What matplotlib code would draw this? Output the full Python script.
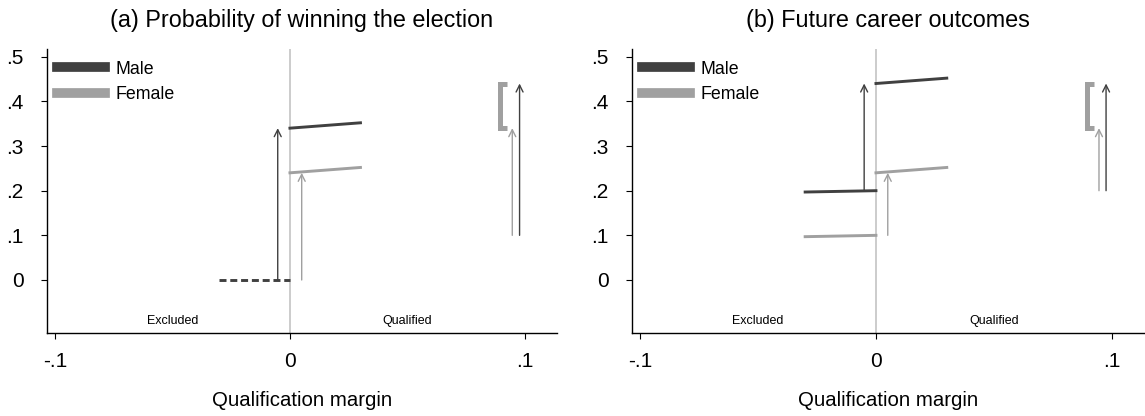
import matplotlib
matplotlib.use('Agg')
import matplotlib.pyplot as plt
from matplotlib.lines import Line2D

plt.rcParams['font.family'] = ['Liberation Sans', 'DejaVu Sans']

#Colours
dark = '#404040'
light = '#a0a0a0'
cutoff = '#c4c4c4'

#x positions of the fitted segments
x_left = [-0.03, 0]
x_right = [0, 0.03]

#Panel (a): probability of winning
a_male_right = [0.34, 0.352]
a_female_right = [0.24, 0.252]
a_excluded = [0, 0]
a_jump_male = (0, 0.34)
a_jump_female = (0, 0.24)

#Panel (b): future career outcomes
b_male_left = [0.197, 0.2]
b_male_right = [0.44, 0.452]
b_female_left = [0.097, 0.1]
b_female_right = [0.24, 0.252]
b_jump_male = (0.2, 0.44)
b_jump_female = (0.1, 0.24)

#Side arrows (start, end) and the bracket
side_male = {'a': (0.1, 0.44), 'b': (0.2, 0.44)}
side_female = {'a': (0.1, 0.34), 'b': (0.2, 0.34)}
bracket = (0.34, 0.44)

titles = ['(a) Probability of winning the election', '(b) Future career outcomes']
yticks = [0, 0.1, 0.2, 0.3, 0.4, 0.5]
ytick_labels = ['0', '.1', '.2', '.3', '.4', '.5']
xticks = [-0.1, 0, 0.1]
xtick_labels = ['-.1', '0', '.1']

fig = plt.figure(figsize=(11.45, 4.16), dpi=100)
ax_a = fig.add_axes([46.7/1145, 1-333/416, 510/1145, (333-49.3)/416])
ax_b = fig.add_axes([631.7/1145, 1-333/416, 513.3/1145, (333-49.3)/416])


def arrow(ax, x, y0, y1, color):
    ax.annotate('', xy=(x, y1), xytext=(x, y0),
                arrowprops=dict(arrowstyle='->,head_length=0.5,head_width=0.25',
                                color=color, lw=1.0, shrinkA=0, shrinkB=0))


def setup(ax, title):
    ax.set_xlim(-0.1035, 0.1135 if ax is ax_a else 0.114)
    ax.set_ylim(-0.1187, 0.5166)
    ax.axvline(0, color=cutoff, lw=1.2, zorder=0)
    ax.spines['top'].set_visible(False)
    ax.spines['right'].set_visible(False)
    ax.spines['left'].set_linewidth(1.0)
    ax.spines['bottom'].set_linewidth(1.0)
    ax.set_yticks(yticks)
    ax.set_yticklabels(ytick_labels)
    ax.set_xticks(xticks)
    ax.set_xticklabels(xtick_labels)
    ax.tick_params(axis='y', length=4, pad=12.5, labelsize=15)
    ax.tick_params(axis='x', length=4, pad=10, labelsize=15)
    ax.set_xlabel('Qualification margin', fontsize=14.7, labelpad=14)
    ax.set_title(title, fontsize=16.8, pad=16)
    ax.text(-0.05, -0.092, 'Excluded', ha='center', va='center', fontsize=9)
    ax.text(0.05, -0.092, 'Qualified', ha='center', va='center', fontsize=9)
    handles = [Line2D([], [], color=dark, lw=7), Line2D([], [], color=light, lw=7)]
    ax.legend(handles, ['Male', 'Female'], loc='upper left', bbox_to_anchor=(0.02, 0.96),
              frameon=False, fontsize=12.8, handlelength=2.7, handletextpad=0.6,
              labelspacing=0.47, borderaxespad=0, borderpad=0)
    #bracket
    bx0, bx1 = 0.0893, 0.0925
    ax.plot([bx1, bx0, bx0, bx1], [bracket[1], bracket[1], bracket[0], bracket[0]],
            color=light, lw=3.6, solid_joinstyle='miter', solid_capstyle='butt')


#Panel (a)
setup(ax_a, titles[0])
ax_a.plot(x_right, a_male_right, color=dark, lw=2.1)
ax_a.plot(x_right, a_female_right, color=light, lw=2.1)
ax_a.plot(x_left, a_excluded, color=dark, lw=2.1, ls=(0, (2.4, 1.3)))
arrow(ax_a, -0.0052, a_jump_male[0], a_jump_male[1], dark)
arrow(ax_a, 0.005, a_jump_female[0], a_jump_female[1], light)
arrow(ax_a, 0.0946, side_female['a'][0], side_female['a'][1], light)
arrow(ax_a, 0.0977, side_male['a'][0], side_male['a'][1], dark)

#Panel (b)
setup(ax_b, titles[1])
ax_b.plot(x_left, b_male_left, color=dark, lw=2.1)
ax_b.plot(x_right, b_male_right, color=dark, lw=2.1)
ax_b.plot(x_left, b_female_left, color=light, lw=2.1)
ax_b.plot(x_right, b_female_right, color=light, lw=2.1)
arrow(ax_b, -0.005, b_jump_male[0], b_jump_male[1], dark)
arrow(ax_b, 0.005, b_jump_female[0], b_jump_female[1], light)
arrow(ax_b, 0.0945, side_female['b'][0], side_female['b'][1], light)
arrow(ax_b, 0.0975, side_male['b'][0], side_male['b'][1], dark)

fig.savefig('out.png', dpi=100)
